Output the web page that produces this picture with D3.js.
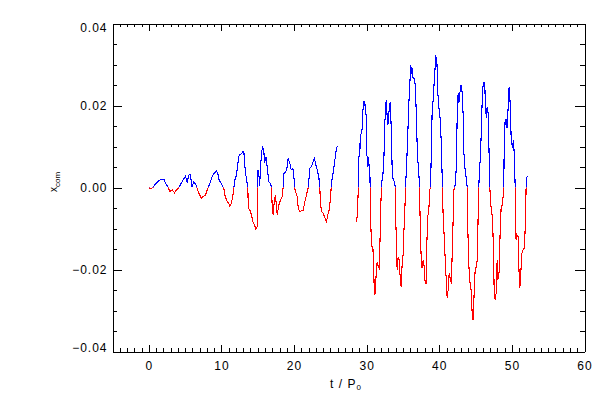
<!DOCTYPE html>
<html><head><meta charset="utf-8">
<script src="https://cdn.jsdelivr.net/npm/d3@7"></script>
<style>body{margin:0;background:#fff} text{font-family:"Liberation Sans",Arial,sans-serif}</style>
</head><body><svg id="c" width="600" height="400"></svg>
<script>
// ---- data ----
const xTicks = [0, 10, 20, 30, 40, 50, 60];
const yTicks = [-0.04, -0.02, 0, 0.02, 0.04];

const seg1T = [0.00,0.33,0.60,0.78,1.15,1.52,1.84,2.07,2.30,2.62,2.90,3.22,3.54,3.90,4.13,4.59,5.05,5.28,5.51,5.74,5.88,5.97,6.20,6.52,6.66,6.89,7.21,7.48,7.81,8.13,8.40,8.72,8.95,9.32,9.50,9.69,10.10,10.33,10.47,10.70,11.02,11.16,11.34,11.52,11.71,11.84,12.07,12.26,12.44,12.72,12.99,13.10,13.18,13.32,13.55,13.64,13.70,13.90,14.01,14.14,14.33,14.56,14.74,14.92,15.02,15.15,15.25,15.38,15.52,15.70,15.84,15.93,16.12,16.30,16.53,16.76,16.90,16.99,17.13,17.31,17.45,17.59,17.68,17.91,18.14,18.37,18.50,18.60,18.83,19.06,19.19,19.42,19.61,19.83,19.97,20.06,20.20,20.43,20.57,20.75,21.03,21.26,21.49,21.72,21.95,22.04,22.18,22.41,22.63,22.82,23.00,23.19,23.41,23.55,23.64,23.78,24.01,24.19,24.47,24.65,24.84,25.02,25.11,25.25,25.48,25.71,25.85,25.98];
const seg1X = [-0.0001,-0.0002,0.0000,0.0006,0.0013,0.0018,0.0020,0.0020,0.0010,0.0002,-0.0010,-0.0006,-0.0013,-0.0004,0.0000,0.0014,0.0028,0.0014,0.0030,0.0032,0.0006,0.0002,0.0014,0.0006,-0.0002,-0.0014,-0.0026,-0.0022,-0.0018,-0.0002,0.0010,0.0026,0.0034,0.0041,0.0034,0.0018,0.0006,-0.0002,-0.0018,-0.0031,-0.0039,-0.0045,-0.0039,-0.0026,-0.0002,0.0018,0.0030,0.0059,0.0079,0.0082,0.0088,0.0086,0.0063,0.0035,0.0010,0.0000,-0.0051,-0.0055,-0.0059,-0.0067,-0.0083,-0.0091,-0.0102,-0.0096,0.0043,0.0035,0.0004,0.0043,0.0087,0.0098,0.0091,0.0059,0.0075,0.0051,0.0014,0.0010,0.0000,-0.0047,-0.0067,-0.0026,-0.0022,-0.0047,-0.0067,-0.0043,-0.0030,-0.0022,0.0000,0.0035,0.0036,0.0051,0.0071,0.0059,0.0043,0.0047,0.0030,0.0002,-0.0010,-0.0022,-0.0047,-0.0059,-0.0057,-0.0055,-0.0035,-0.0018,0.0000,0.0018,0.0047,0.0051,0.0063,0.0071,0.0055,0.0043,0.0026,0.0000,-0.0039,-0.0059,-0.0063,-0.0071,-0.0083,-0.0067,-0.0055,-0.0026,0.0000,0.0022,0.0047,0.0079,0.0095,0.0101];

const seg2T = [28.60,28.69,28.83,28.92,29.06,29.11,29.29,29.38,29.47,29.61,29.75,29.84,29.93,29.98,30.07,30.16,30.25,30.35,30.44,30.48,30.53,30.67,30.85,30.94,31.04,31.13,31.22,31.31,31.45,31.59,31.72,31.82,31.95,32.04,32.14,32.23,32.37,32.50,32.69,32.78,32.92,33.05,33.24,33.38,33.51,33.65,33.83,33.93,33.97,34.11,34.20,34.34,34.48,34.61,34.75,34.89,35.03,35.12,35.26,35.35,35.49,35.62,35.81,35.95,36.08,36.18,36.27,36.40,36.59,36.73,36.86,37.00,37.18,37.28,37.37,37.51,37.64,37.78,37.92,38.06,38.19,38.29,38.42,38.56,38.70,38.79,38.93,39.02,39.16,39.34,39.53,39.66,39.80,39.98,40.12,40.26,40.44,40.53,40.72,40.90,41.09,41.22,41.36,41.54,41.68,41.77,41.91,42.00,42.14,42.23,42.37,42.46,42.60,42.69,42.83,43.01,43.15,43.29,43.38,43.56,43.75,43.84,43.88,44.02,44.16,44.39,44.53,44.66,44.80,44.94,45.12,45.26,45.35,45.44,45.54,45.67,45.81,45.95,46.13,46.27,46.36,46.50,46.59,46.73,46.87,46.96,47.05,47.19,47.33,47.46,47.56,47.69,47.83,47.97,48.06,48.24,48.38,48.52,48.66,48.84,48.89,48.93,49.07,49.25,49.34,49.48,49.62,49.76,49.90,50.08,50.22,50.35,50.45,50.49,50.58,50.72,50.86,50.95,51.09,51.23,51.36,51.55,51.73,51.87,51.96,52.01,52.10];
const seg2X = [-0.0083,-0.0071,-0.0014,0.0075,0.0075,0.0128,0.0132,0.0144,0.0185,0.0209,0.0209,0.0177,0.0177,0.0083,0.0075,0.0051,0.0075,0.0047,0.0043,0.0002,-0.0067,-0.0144,-0.0144,-0.0177,-0.0246,-0.0262,-0.0246,-0.0209,-0.0181,-0.0193,-0.0197,-0.0144,-0.0043,0.0002,0.0022,0.0030,0.0067,0.0157,0.0213,0.0185,0.0152,0.0181,0.0209,0.0148,0.0047,0.0018,0.0014,0.0002,-0.0055,-0.0140,-0.0201,-0.0169,-0.0177,-0.0217,-0.0242,-0.0185,-0.0161,-0.0112,-0.0055,0.0002,0.0051,0.0108,0.0205,0.0254,0.0299,0.0278,0.0291,0.0266,0.0266,0.0242,0.0161,0.0079,0.0035,0.0002,-0.0083,-0.0173,-0.0197,-0.0177,-0.0193,-0.0234,-0.0234,-0.0136,-0.0071,-0.0055,-0.0006,0.0002,0.0100,0.0189,0.0213,0.0270,0.0319,0.0315,0.0230,0.0189,0.0169,0.0116,0.0002,-0.0067,-0.0136,-0.0205,-0.0270,-0.0250,-0.0209,-0.0226,-0.0234,-0.0165,-0.0079,-0.0006,0.0002,0.0010,0.0063,0.0169,0.0230,0.0205,0.0230,0.0250,0.0232,0.0177,0.0087,0.0043,0.0018,0.0002,-0.0059,-0.0165,-0.0222,-0.0250,-0.0307,-0.0323,-0.0258,-0.0201,-0.0193,-0.0169,-0.0067,0.0002,0.0039,0.0079,0.0148,0.0238,0.0258,0.0250,0.0197,0.0169,0.0197,0.0181,0.0075,0.0002,-0.0030,-0.0059,-0.0071,-0.0152,-0.0250,-0.0274,-0.0258,-0.0177,-0.0226,-0.0205,-0.0112,-0.0047,-0.0043,-0.0014,0.0002,0.0083,0.0165,0.0165,0.0144,0.0193,0.0246,0.0205,0.0120,0.0096,0.0116,0.0071,0.0002,-0.0051,-0.0128,-0.0116,-0.0120,-0.0189,-0.0246,-0.0209,-0.0161,-0.0152,-0.0148,-0.0079,0.0002,0.0014,0.0028];

// ---- layout ----
const L = 112.5, R = 584.5, T = 23.5, B = 351.5;
const x = d3.scaleLinear().domain([-5, 60]).range([L, R]);
const y = d3.scaleLinear().domain([-0.04, 0.04]).range([B, T]);
const svg = d3.select('#c');
svg.append('rect').attr('width', 600).attr('height', 400).attr('fill', '#fff');

const defs = svg.append('defs');
defs.append('clipPath').attr('id', 'above').append('rect')
  .attr('x', 0).attr('y', 0).attr('width', 600).attr('height', y(0));
defs.append('clipPath').attr('id', 'below').append('rect')
  .attr('x', 0).attr('y', y(0)).attr('width', 600).attr('height', 400 - y(0));

const segs = [d3.zip(seg1T, seg1X), d3.zip(seg2T, seg2X)];
const line = d3.line().x(d => x(d[0])).y(d => y(d[1]));
[['above', '#0000ff'], ['below', '#ff0000']].forEach(([clip, col]) => {
  const g = svg.append('g').attr('clip-path', `url(#${clip})`);
  segs.forEach(s => g.append('path').attr('d', line(s))
    .attr('fill', 'none').attr('stroke', col).attr('stroke-width', 1.1)
    .attr('stroke-linejoin', 'miter').attr('shape-rendering', 'crispEdges'));
});

// ---- axes ----
const fmtX = d3.format('d'), fmtY = d3.format('.2f');
const xMinor = d3.range(-5, 61, 1);
const yMinor = d3.range(-8, 9).map(i => i * 0.005);
function styleAxis(g) {
  g.selectAll('path,line').attr('stroke', '#000').attr('stroke-width', 1).attr('shape-rendering', 'crispEdges');
  g.selectAll('text').attr('fill', '#000').style('font-size', '12px').style('letter-spacing', '1px')
   .style('font-family', '"Liberation Sans",Arial,sans-serif');
}
const ax = [
  [d3.axisBottom(x).tickValues(xTicks).tickSizeInner(-7).tickSizeOuter(0).tickPadding(10).tickFormat(fmtX), `translate(0,${B})`],
  [d3.axisBottom(x).tickValues(xMinor).tickSizeInner(-3.5).tickSizeOuter(0).tickFormat(''), `translate(0,${B})`],
  [d3.axisTop(x).tickValues(xTicks).tickSizeInner(-7).tickSizeOuter(0).tickFormat(''), `translate(0,${T})`],
  [d3.axisTop(x).tickValues(xMinor).tickSizeInner(-3.5).tickSizeOuter(0).tickFormat(''), `translate(0,${T})`],
  [d3.axisLeft(y).tickValues(yTicks).tickSizeInner(-9.5).tickSizeOuter(0).tickPadding(5).tickFormat(fmtY), `translate(${L},0)`],
  [d3.axisLeft(y).tickValues(yMinor).tickSizeInner(-4.7).tickSizeOuter(0).tickFormat(''), `translate(${L},0)`],
  [d3.axisRight(y).tickValues(yTicks).tickSizeInner(-9.5).tickSizeOuter(0).tickFormat(''), `translate(${R},0)`],
  [d3.axisRight(y).tickValues(yMinor).tickSizeInner(-4.7).tickSizeOuter(0).tickFormat(''), `translate(${R},0)`]
];
ax.forEach(([a, tr]) => {
  const g = svg.append('g').attr('transform', tr).call(a);
  styleAxis(g);
  g.selectAll('.tick text').filter(d => d === 0.04).attr('transform', 'translate(0,4)');
  g.selectAll('.tick text').filter(d => d === -0.04).attr('transform', 'translate(0,-4)');
});

// ---- labels ----
const xl = svg.append('text').attr('x', 346).attr('y', 387.5).attr('text-anchor', 'middle')
  .style('font-size', '12px').style('letter-spacing', '1px');
xl.append('tspan').text('t / P');
xl.append('tspan').text('0').style('font-size', '8px').attr('dy', 2);

const yl = svg.append('text').attr('transform', 'translate(57,182) rotate(-90)').attr('text-anchor', 'middle')
  .style('font-size', '10px');
yl.append('tspan').text('x');
yl.append('tspan').text('com').style('font-size', '8px').attr('dy', 3);
</script></body></html>
